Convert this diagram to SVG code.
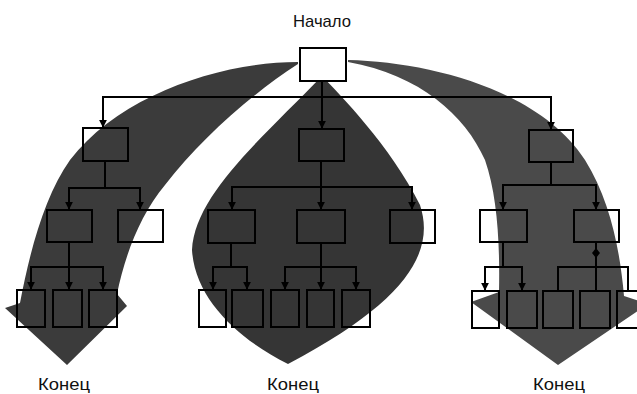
<svg xmlns="http://www.w3.org/2000/svg" width="637" height="394" viewBox="0 0 637 394">
<style>
.box{fill:none;stroke:#000;stroke-width:2}
.ln{fill:none;stroke:#000;stroke-width:2}
.lbl{font-family:"Liberation Sans Narrow","Liberation Sans",Arial,sans-serif;font-size:17px;fill:#111;text-anchor:middle}
</style>
<defs>
<marker id="arr" viewBox="0 0 10 10" refX="9" refY="5" markerWidth="8" markerHeight="8" markerUnits="userSpaceOnUse" orient="auto">
<path d="M0,0 L10,5 L0,10 Z" fill="#000"/>
</marker>
</defs>
<rect width="637" height="394" fill="#fff"/>
<g id="flows">
<path id="flow-left" fill="#3b3b3b" d="M298 62 C220 62,120 95,70 160 C45 195,30 250,20 303 L5 308 L67 365 L127 306 L117 294 C125 255,140 215,165 185 C200 140,250 95,298 64 Z"/>
<path id="flow-mid" fill="#353535" d="M322 76 C340 95,390 145,420 205 C435 250,410 300,288 364 C240 340,195 300,192 250 C195 195,260 140,322 76 Z"/>
<path id="flow-right" fill="#4a4a4a" d="M348 60 C430 62,540 90,585 160 C610 200,620 250,624 296 L648 304 L558 365 L471 302 L499 292 C500 240,497 195,485 160 C465 115,420 75,348 62 Z"/>
</g>
<g id="connectors">
<path class="ln" d="M322 82 V128" marker-end="url(#arr)"/>
<path class="ln" d="M322 97 H103 V127" marker-end="url(#arr)"/>
<path class="ln" d="M322 97 H551 V129" marker-end="url(#arr)"/>
<path class="ln" d="M105 161 V188"/>
<path class="ln" d="M105 188 H69 V209" marker-end="url(#arr)"/>
<path class="ln" d="M105 188 H140 V209" marker-end="url(#arr)"/>
<path class="ln" d="M321 161 V209" marker-end="url(#arr)"/>
<path class="ln" d="M321 187 H232 V209" marker-end="url(#arr)"/>
<path class="ln" d="M321 187 H412 V209" marker-end="url(#arr)"/>
<path class="ln" d="M551 162 V185"/>
<path class="ln" d="M551 185 H503 V209" marker-end="url(#arr)"/>
<path class="ln" d="M551 185 H596 V209" marker-end="url(#arr)"/>
<path class="ln" d="M69 242 V289" marker-end="url(#arr)"/>
<path class="ln" d="M69 267 H31 V289" marker-end="url(#arr)"/>
<path class="ln" d="M69 267 H103 V289" marker-end="url(#arr)"/>
<path class="ln" d="M231 243 V267"/>
<path class="ln" d="M231 267 H213 V289" marker-end="url(#arr)"/>
<path class="ln" d="M231 267 H247 V289" marker-end="url(#arr)"/>
<path class="ln" d="M321 243 V289" marker-end="url(#arr)"/>
<path class="ln" d="M321 267 H285 V289" marker-end="url(#arr)"/>
<path class="ln" d="M321 267 H356 V289" marker-end="url(#arr)"/>
<path class="ln" d="M503 242 V267"/>
<path class="ln" d="M503 267 H485 V290" marker-end="url(#arr)"/>
<path class="ln" d="M503 267 H522 V290" marker-end="url(#arr)"/>
<path class="ln" d="M596 242 V291"/>
<path class="ln" d="M596 267 H558 V291"/>
<path class="ln" d="M596 267 H628 V291"/>
<path d="M596 248 L600 253 L596 258 L592 253 Z" fill="#000"/>
</g>
<g id="start"><rect x="300" y="48" width="46" height="33" fill="#fff" stroke="#000" stroke-width="2"/><text class="lbl" x="322" y="27" textLength="58" lengthAdjust="spacingAndGlyphs">Начало</text></g>
<g id="n1"><rect class="box" x="83" y="128" width="45" height="33"/></g>
<g id="n2"><rect class="box" x="299" y="129" width="45" height="32"/></g>
<g id="n3"><rect class="box" x="529" y="130" width="44" height="32"/></g>
<g id="n11"><rect class="box" x="47" y="210" width="45" height="32"/></g>
<g id="n12"><rect class="box" x="118" y="210" width="45" height="32"/></g>
<g id="n21"><rect class="box" x="208" y="210" width="47" height="33"/></g>
<g id="n22"><rect class="box" x="297" y="210" width="48" height="33"/></g>
<g id="n23"><rect class="box" x="390" y="210" width="45" height="33"/></g>
<g id="n31"><rect class="box" x="480" y="210" width="47" height="32"/></g>
<g id="n32"><rect class="box" x="574" y="210" width="45" height="32"/></g>
<g id="n111"><rect class="box" x="17" y="290" width="28" height="37"/></g>
<g id="n112"><rect class="box" x="53" y="290" width="29" height="37"/></g>
<g id="n113"><rect class="box" x="89" y="290" width="28" height="37"/></g>
<g id="n211"><rect class="box" x="199" y="290" width="27" height="37"/></g>
<g id="n212"><rect class="box" x="232" y="290" width="31" height="37"/></g>
<g id="n221"><rect class="box" x="271" y="290" width="28" height="37"/></g>
<g id="n222"><rect class="box" x="307" y="290" width="27" height="37"/></g>
<g id="n223"><rect class="box" x="342" y="290" width="28" height="37"/></g>
<g id="n311"><rect class="box" x="472" y="291" width="27" height="37"/></g>
<g id="n312"><rect class="box" x="507" y="291" width="30" height="37"/></g>
<g id="n321"><rect class="box" x="543" y="291" width="30" height="37"/></g>
<g id="n322"><rect class="box" x="580" y="291" width="30" height="37"/></g>
<g id="n323"><rect class="box" x="617" y="291" width="30" height="37"/></g>
<g id="ends">
<text class="lbl" x="64" y="390" textLength="52" lengthAdjust="spacingAndGlyphs">Конец</text>
<text class="lbl" x="293" y="390" textLength="52" lengthAdjust="spacingAndGlyphs">Конец</text>
<text class="lbl" x="559" y="390" textLength="52" lengthAdjust="spacingAndGlyphs">Конец</text>
</g>
</svg>
